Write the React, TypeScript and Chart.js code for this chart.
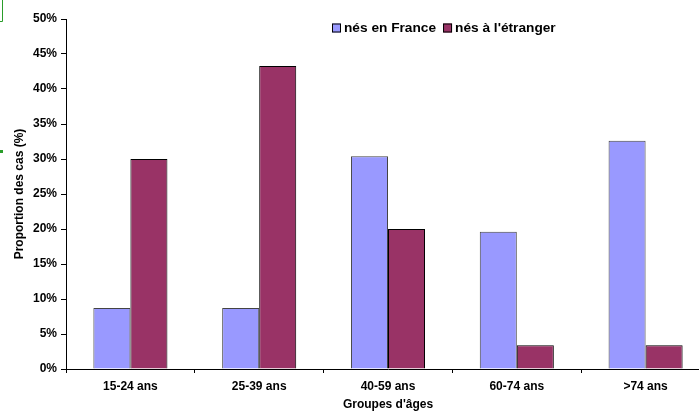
import React, { useEffect, useRef } from "react";
import { Chart, registerables } from "chart.js";

Chart.register(...registerables);

const categories = ["15-24 ans", "25-39 ans", "40-59 ans", "60-74 ans", ">74 ans"];
const nesEnFrance = [8.7, 8.7, 30.4, 19.6, 32.6];
const nesEtranger = [30.0, 43.3, 20.0, 3.4, 3.4];
const seriesNames = ["nés en France", "nés à l'étranger"];
const yTickStep = 5;
const yMax = 50;
const xTitle = "Groupes d'âges";
const yTitle = "Proportion des cas (%)";

const FONT = "Arial, 'Liberation Sans', sans-serif";
const BLUE = "#9999FF";
const RED = "#993366";

const legendPlugin = {
  id: "customLegend",
  afterDraw(chart: any) {
    const ctx = chart.ctx;
    ctx.save();
    ctx.font = `bold 13.7px ${FONT}`;
    ctx.textBaseline = "middle";
    ctx.textAlign = "left";
    let x = 332;
    const y = 28;
    chart.data.datasets.forEach((ds: any) => {
      ctx.fillStyle = ds.backgroundColor;
      ctx.fillRect(x, y - 4.5, 9, 9);
      ctx.strokeStyle = "#000";
      ctx.lineWidth = 1;
      ctx.strokeRect(x + 0.5, y - 4, 8, 8);
      ctx.fillStyle = "#000";
      ctx.fillText(ds.label, x + 12, y);
      x += 12 + ctx.measureText(ds.label).width + 7;
    });
    // selection-handle artifacts
    ctx.strokeStyle = "#2a9d2a";
    ctx.lineWidth = 1;
    ctx.beginPath();
    ctx.moveTo(2.5, 0);
    ctx.lineTo(2.5, 21.5);
    ctx.lineTo(0, 21.5);
    ctx.stroke();
    ctx.fillStyle = "#2a9d2a";
    ctx.fillRect(0, 150, 3, 3);
    ctx.restore();
  },
};

export default function App() {
  const ref = useRef<HTMLCanvasElement | null>(null);

  useEffect(() => {
    if (!ref.current) return;
    const chart = new Chart(ref.current, {
      type: "bar",
      data: {
        labels: categories,
        datasets: [
          {
            label: seriesNames[0],
            data: nesEnFrance,
            backgroundColor: BLUE,
            borderColor: "#444",
            borderWidth: 1,
            categoryPercentage: 0.575,
            barPercentage: 1,
          },
          {
            label: seriesNames[1],
            data: nesEtranger,
            backgroundColor: RED,
            borderColor: "#000",
            borderWidth: 1,
            categoryPercentage: 0.575,
            barPercentage: 1,
          },
        ],
      },
      options: {
        responsive: false,
        animation: false,
        devicePixelRatio: 1,
        layout: { padding: { top: 19, right: 2, left: 0, bottom: 0 } },
        plugins: {
          legend: { display: false },
          tooltip: { enabled: false },
        },
        scales: {
          x: {
            afterFit: (s: any) => {
              s.height = 44;
            },
            grid: {
              display: true,
              drawOnChartArea: false,
              drawTicks: true,
              tickLength: 4,
              color: "#000",
              offset: true,
            },
            border: { color: "#000", width: 1 },
            ticks: {
              color: "#000",
              font: { family: FONT, size: 12, weight: "bold" },
              padding: 6,
              maxRotation: 0,
            },
            title: {
              display: true,
              text: xTitle,
              color: "#000",
              font: { family: FONT, size: 12, weight: "bold" },
              padding: { top: 0, bottom: 1 },
            },
          },
          y: {
            min: 0,
            max: yMax,
            afterFit: (s: any) => {
              s.width = 66;
            },
            grid: {
              display: true,
              drawOnChartArea: false,
              drawTicks: true,
              tickLength: 5,
              color: "#000",
            },
            border: { color: "#000", width: 1 },
            ticks: {
              stepSize: yTickStep,
              color: "#000",
              font: { family: FONT, size: 12, weight: "bold" },
              padding: 4,
              callback: (v: any) => `${v}%`,
            },
            title: {
              display: true,
              text: yTitle,
              color: "#000",
              font: { family: FONT, size: 12, weight: "bold" },
              padding: { top: 12, bottom: 0 },
            },
          },
        },
      },
      plugins: [legendPlugin],
    });
    return () => chart.destroy();
  }, []);

  return (
    <div
      style={{
        position: "fixed",
        left: 0,
        top: 0,
        width: 699,
        height: 413,
        overflow: "hidden",
        background: "#fff",
      }}
    >
      <canvas ref={ref} width={712} height={413} style={{ width: 712, height: 413, display: "block" }} />
    </div>
  );
}
